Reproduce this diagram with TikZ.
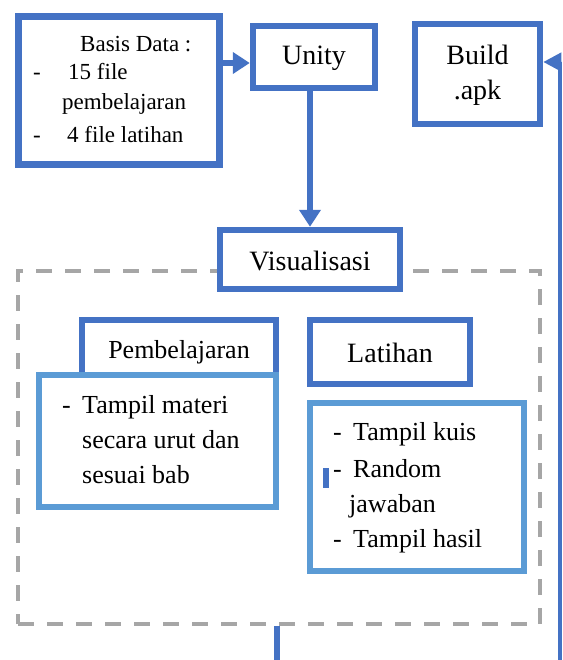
\documentclass[tikz,border=0pt]{standalone}
\usepackage{fontspec}
\setmainfont{Liberation Serif}
\usetikzlibrary{arrows.meta}
\definecolor{dblue}{HTML}{4472C4}
\definecolor{lblue}{HTML}{5B9BD5}
\definecolor{dgray}{HTML}{A6A6A6}
\begin{document}
\begin{tikzpicture}[x=1pt,y=-1pt,
  darkbox/.style={draw=dblue,line width=6.5pt,fill=white,inner sep=0pt,rectangle},
  lightbox/.style={draw=lblue,line width=6.5pt,fill=white,inner sep=0pt,rectangle},
  frame/.style={draw=dgray,line width=4.5pt,dash pattern=on 16pt off 13pt,inner sep=0pt,rectangle},
  conn/.style={draw=dblue,line width=6pt},
  connthin/.style={draw=dblue,line width=4pt},
  bigtip/.style={-{Triangle[length=17pt,width=21pt]}},
  title/.style={anchor=base,inner sep=0pt,font=\fontsize{28pt}{30pt}\selectfont},
  basis/.style={anchor=base west,inner sep=0pt,font=\fontsize{23pt}{25pt}\selectfont},
  item/.style={anchor=base west,inner sep=0pt,font=\fontsize{26pt}{28pt}\selectfont},
]
\useasboundingbox (0,0) rectangle (562,660);

% dashed frame
\node[frame,minimum width=522pt,minimum height=353pt] (frm) at (279,447.5) {};

% boxes
\node[darkbox,minimum width=201.4pt,minimum height=148.4pt] (basisbox) at (119,90.5) {};
\node[darkbox,minimum width=122pt,minimum height=62pt] (unity) at (314,57) {};
\node[darkbox,minimum width=125pt,minimum height=100pt] (build) at (477.5,74) {};
\node[darkbox,minimum width=180pt,minimum height=59pt] (vis) at (310,259.5) {};
\node[darkbox,minimum width=194pt,minimum height=55pt] (pemb) at (179,347.5) {};
\node[lightbox,minimum width=237pt,minimum height=132pt] (pembitems) at (157.5,441) {};
\node[darkbox,minimum width=160pt,minimum height=64pt] (lat) at (390,352) {};
\node[lightbox,minimum width=214pt,minimum height=168pt] (latitems) at (417,487) {};

% connectors
\draw[conn,bigtip] (basisbox.east |- 0,63) -- (unity.west |- 0,63);
\draw[conn,bigtip] (unity.south -| vis.north) -- (vis.north);
\coordinate (rb) at (559.5,662);
\draw[connthin,-{Triangle[length=18pt,width=18pt]}] (rb) |- (build.east |- 0,62);
\coordinate (bb) at (277,662);
\draw[conn] (frm.south -| bb) -- (bb);

% small mark
\fill[dblue] (323,468) rectangle (329,488);

% texts
\node[basis] (t1) at (80,52) {Basis Data :};
\node[basis] (t2) at (33,80) {-};
\node[basis] (t3) at (68,80) {15 file};
\node[basis] (t4) at (62,110) {pembelajaran};
\node[basis] (t5) at (33,143) {-};
\node[basis] (t6) at (67,143) {4 file latihan};

\node[title] (tu) at (314,65) {Unity};
\node[title] (tb1) at (477.5,65) {Build};
\node[title] (tb2) at (477.5,100) {.apk};
\node[title] (tv) at (310,270) {Visualisasi};
\node[title,font=\fontsize{26pt}{28pt}\selectfont] (tp) at (179,358) {Pembelajaran};
\node[title] (tl) at (390,362) {Latihan};

\node[item] (p0) at (62,413) {-};
\node[item] (p1) at (82,413) {Tampil materi};
\node[item] (p2) at (82,448) {secara urut dan};
\node[item] (p3) at (82,483) {sesuai bab};

\node[item] (l0) at (333,440) {-};
\node[item] (l1) at (353,440) {Tampil kuis};
\node[item] (l2) at (333,477) {-};
\node[item] (l3) at (353,477) {Random};
\node[item] (l4) at (349,512) {jawaban};
\node[item] (l5) at (333,547) {-};
\node[item] (l6) at (353,547) {Tampil hasil};
\end{tikzpicture}
\end{document}
